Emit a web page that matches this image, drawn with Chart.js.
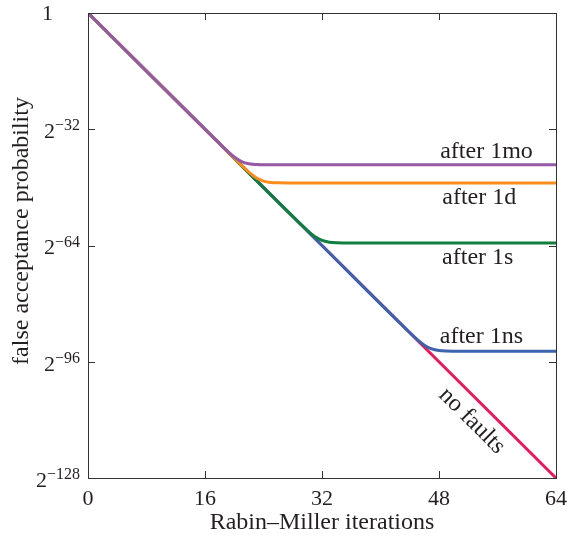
<!DOCTYPE html>
<html>
<head>
<meta charset="utf-8">
<script src="https://cdn.jsdelivr.net/npm/chart.js@4"></script>
<style>
  html, body { margin: 0; padding: 0; background: #fff; }
</style>
</head>
<body>
<canvas id="chart" width="567" height="539"></canvas>
<script>
// Iterations (x) and log2 of the false acceptance probability (y), per curve
const noFaultIter = [0, 64];
const noFaultLog2 = [0, -128];

const nsIter = [0, 32, 44, 45, 46, 47, 48, 49, 51, 64];
const nsLog2 = [0, -64, -87.96, -89.84, -91.45, -92.48, -92.92, -93.05, -93.1, -93.1];

const sIter = [0, 16, 29, 30, 31, 32, 33, 34, 36, 64];
const sLog2 = [0, -32, -57.96, -59.86, -61.51, -62.61, -63.09, -63.25, -63.3, -63.3];

const dIter = [0, 16, 20, 21, 22, 23, 24, 25, 26, 28, 64];
const dLog2 = [0, -32, -39.99, -41.95, -43.81, -45.35, -46.28, -46.65, -46.76, -46.8, -46.8];

const moIter = [0, 16, 18, 19, 20, 21, 22, 23, 24, 26, 64];
const moLog2 = [0, -32, -35.97, -37.9, -39.64, -40.9, -41.52, -41.72, -41.78, -41.8, -41.8];

// axis ticks
const xTicks = [0, 16, 32, 48, 64];
const yTickExps = [0, -32, -64, -96, -128];

// curve labels (anchored in data units)
const noteText = ["after 1mo", "after 1d", "after 1s", "after 1ns", "no faults"];
const noteIter = [54.5, 53.5, 53.3, 53.8, 52.5];
const noteLog2 = [-38.2, -50.9, -67.4, -89.0, -112.3];
const noteAngle = [0, 0, 0, 0, 45];

const SERIF = "'Liberation Serif', 'Times New Roman', serif";
const INK = "#231f20";

function pts(xs, ys) {
  return xs.map((x, i) => ({ x: x, y: ys[i] }));
}

function line(label, xs, ys, color, order) {
  return {
    label: label,
    data: pts(xs, ys),
    borderColor: color,
    backgroundColor: color,
    borderWidth: 3,
    pointRadius: 0,
    fill: false,
    cubicInterpolationMode: "monotone",
    order: order
  };
}

// frame, inward ticks, y labels with exponents, y title, curve labels
const decorations = {
  id: "decorations",
  afterDatasetsDraw(chart) {
    const ctx = chart.ctx;
    const a = chart.chartArea;
    const xs = chart.scales.x, ys = chart.scales.y;
    ctx.save();
    ctx.strokeStyle = "#333";
    ctx.lineWidth = 1;
    ctx.strokeRect(a.left + 0.5, a.top + 0.5, a.right - a.left, a.bottom - a.top);
    ctx.beginPath();
    xTicks.slice(1, -1).forEach(v => {
      const px = Math.round(xs.getPixelForValue(v)) + 0.5;
      ctx.moveTo(px, a.bottom); ctx.lineTo(px, a.bottom - 7);
      ctx.moveTo(px, a.top); ctx.lineTo(px, a.top + 7);
    });
    yTickExps.slice(1, -1).forEach(v => {
      const py = Math.round(ys.getPixelForValue(v)) + 0.5;
      ctx.moveTo(a.left, py); ctx.lineTo(a.left + 7, py);
      ctx.moveTo(a.right, py); ctx.lineTo(a.right - 7, py);
    });
    ctx.stroke();

    // y tick labels: 1, 2^-32, ...
    ctx.fillStyle = INK;
    ctx.textBaseline = "middle";
    ctx.textAlign = "right";
    const right = a.left - 8;
    yTickExps.forEach(e => {
      const py = ys.getPixelForValue(e);
      if (e === 0) {
        ctx.font = "22px " + SERIF;
        ctx.fillText("1", right - 27, py + 1);
        return;
      }
      const exp = "\u2212" + Math.abs(e);
      ctx.font = "16px " + SERIF;
      const ew = ctx.measureText(exp).width;
      ctx.fillText(exp, right, py - 3);
      ctx.font = "22px " + SERIF;
      ctx.fillText("2", right - ew, py + 3);
    });

    // y axis title
    ctx.save();
    ctx.font = "24px " + SERIF;
    ctx.textAlign = "center";
    ctx.translate(22, ys.getPixelForValue(-60));
    ctx.rotate(-Math.PI / 2);
    ctx.fillText("false acceptance probability", 0, 0);
    ctx.restore();

    // curve labels
    ctx.font = "24px " + SERIF;
    ctx.textAlign = "center";
    noteText.forEach((t, i) => {
      ctx.save();
      ctx.translate(xs.getPixelForValue(noteIter[i]), ys.getPixelForValue(noteLog2[i]));
      ctx.rotate(noteAngle[i] * Math.PI / 180);
      ctx.fillText(t, 0, 0);
      ctx.restore();
    });
    ctx.restore();
  }
};

new Chart(document.getElementById("chart").getContext("2d"), {
  type: "line",
  data: {
    datasets: [
      line("no faults", noFaultIter, noFaultLog2, "#e8185a", 5),
      line("after 1ns", nsIter, nsLog2, "#3b63ae", 4),
      line("after 1s", sIter, sLog2, "#0f7f3f", 3),
      line("after 1d", dIter, dLog2, "#fb8c1e", 2),
      line("after 1mo", moIter, moLog2, "#9659a6", 1)
    ]
  },
  options: {
    responsive: false,
    animation: false,
    layout: { padding: { top: 13, right: 11, left: 0, bottom: 0 } },
    plugins: { legend: { display: false }, tooltip: { enabled: false } },
    scales: {
      x: {
        type: "linear",
        min: 0,
        max: 64,
        afterBuildTicks: s => { s.ticks = xTicks.map(v => ({ value: v })); },
        afterFit: s => { s.height = 61; s.paddingLeft = 0; s.paddingRight = 0; },
        ticks: { color: INK, padding: 10, font: { family: SERIF, size: 22, lineHeight: 1 } },
        grid: { display: false, drawTicks: false },
        border: { display: false },
        title: {
          display: true,
          text: "Rabin–Miller iterations",
          color: INK,
          font: { family: SERIF, size: 24, lineHeight: 1 },
          padding: { top: 0, bottom: 4 }
        }
      },
      y: {
        type: "linear",
        min: -128,
        max: 0,
        afterBuildTicks: s => { s.ticks = yTickExps.map(v => ({ value: v })); },
        afterFit: s => { s.width = 88; s.paddingTop = 0; s.paddingBottom = 0; },
        ticks: { display: false },
        grid: { display: false, drawTicks: false },
        border: { display: false },
        title: { display: false }
      }
    }
  },
  plugins: [decorations]
});
</script>
</body>
</html>
